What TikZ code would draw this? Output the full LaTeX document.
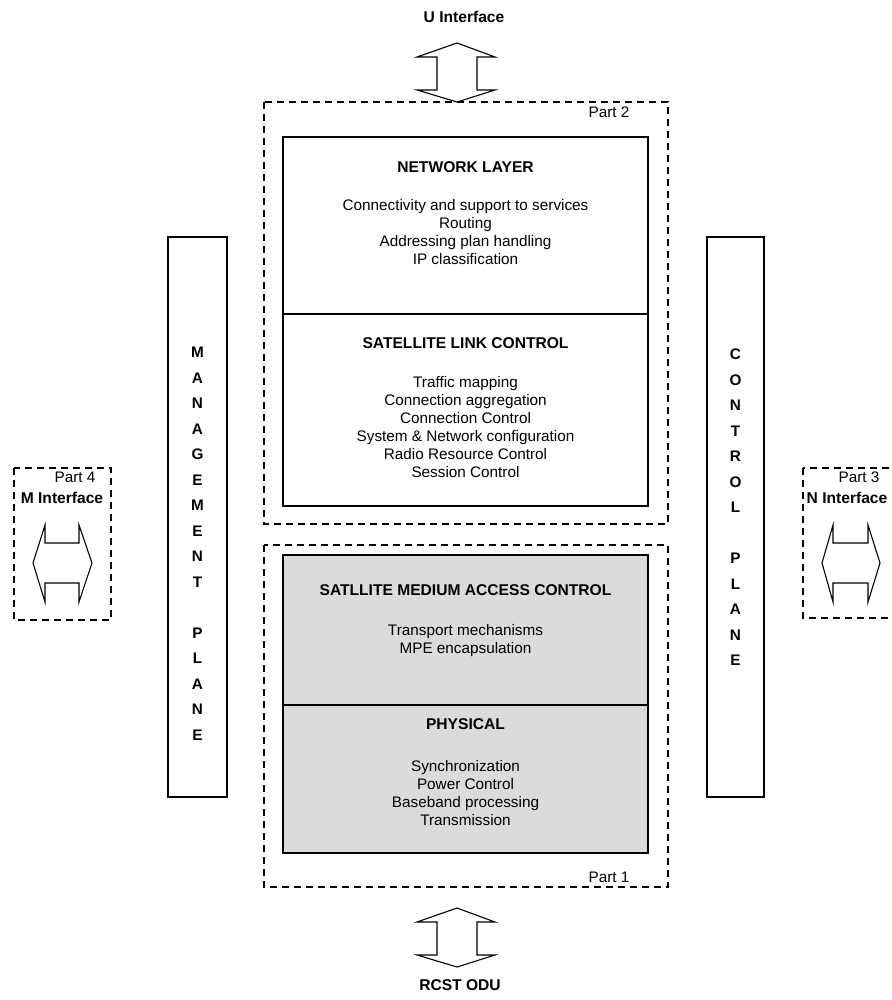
\documentclass[tikz,border=0pt]{standalone}
\usepackage{fontspec}
\setmainfont{Liberation Sans}
\begin{document}
\begin{tikzpicture}[x=1pt,y=-1pt,
  dashbox/.style={draw, line width=1.1pt, dash pattern=on 7pt off 5pt},
  layerbox/.style={draw, line width=1.2pt},
  graybox/.style={draw, line width=1.2pt, fill=black!14},
  txt/.style={font=\fontsize{15.3}{18}\selectfont, align=center, inner sep=0pt},
  hdr/.style={font=\fontsize{15.6}{18}\selectfont\bfseries, align=center, inner sep=0pt},
  vtxt/.style={font=\fontsize{15.3}{25.5}\selectfont\bfseries, align=center, inner sep=0pt, anchor=north},
  arr/.style={draw, line width=1.1pt, line join=miter}]
\useasboundingbox (0,0) rectangle (891,1000);

% dashed parts
\draw[dashbox] (264,102) rectangle (668,524);
\draw[dashbox] (264,545) rectangle (668,887);
\draw[dashbox] (14,468) rectangle (111,620);
\draw[dashbox] (803,468) rectangle (900,618);

% layer boxes
\draw[layerbox] (283,137) rectangle (648,314);
\draw[layerbox] (283,314) rectangle (648,506);
\draw[graybox] (283,555) rectangle (648,705);
\draw[graybox] (283,705) rectangle (648,853);

% plane boxes
\draw[layerbox] (168,237) rectangle (227,797);
\draw[layerbox] (707,237) rectangle (764,797);

% layer texts
\node[hdr] (nlh) at (465.5,167) {NETWORK LAYER};
\node[txt] (nlt) at (465.5,232) {Connectivity and support to services\\Routing\\Addressing plan handling\\IP classification};
\node[hdr] (slch) at (465.5,343) {SATELLITE LINK CONTROL};
\node[txt] (slct) at (465.5,427.5) {Traffic mapping\\Connection aggregation\\Connection Control\\System \& Network configuration\\Radio Resource Control\\Session Control};
\node[hdr] (smach) at (465.5,590) {SATLLITE MEDIUM ACCESS CONTROL};
\node[txt] (smact) at (465.5,641) {Transport mechanisms\\MPE encapsulation};
\node[hdr] (phyh) at (465.5,724) {PHYSICAL};
\node[txt] (phyt) at (465.5,793.5) {Synchronization\\Power Control\\Baseband processing\\Transmission};

% plane texts
\node[vtxt] (mgmt) at (197.5,347)
  {M\\A\\N\\A\\G\\E\\M\\E\\N\\T\\[25.5pt]P\\L\\A\\N\\E};
\node[vtxt] (ctrl) at (735.5,349)
  {C\\O\\N\\T\\R\\O\\L\\[25.5pt]P\\L\\A\\N\\E};

% part labels
\node[txt] (p2) at (609,112) {Part 2};
\node[txt] (p1) at (609,877) {Part 1};
\node[txt] (p4) at (75,477) {Part 4};
\node[hdr] (mif) at (62,498) {M Interface};
\node[txt] (p3) at (859,477) {Part 3};
\node[hdr] (nif) at (847,498) {N Interface};
\node[hdr] (uif) at (464,17) {U Interface};
\node[hdr] (odu) at (460,985) {RCST ODU};

% double arrows
\draw[arr] (457,43) -- (495,57) -- (477,57) -- (477,90) -- (495,90) -- (457,102) -- (417,90) -- (437,90) -- (437,57) -- (417,57) -- cycle;
\draw[arr] (457,908) -- (495,922) -- (477,922) -- (477,955) -- (495,955) -- (457,967) -- (417,955) -- (437,955) -- (437,922) -- (417,922) -- cycle;
\draw[arr] (33,563) -- (45,525) -- (45,543) -- (79,543) -- (79,525) -- (92,563) -- (79,602) -- (79,583) -- (45,583) -- (45,602) -- cycle;
\draw[arr] (822,563) -- (833,525) -- (833,543) -- (868,543) -- (868,525) -- (880,563) -- (868,602) -- (868,583) -- (833,583) -- (833,602) -- cycle;
\end{tikzpicture}
\end{document}
